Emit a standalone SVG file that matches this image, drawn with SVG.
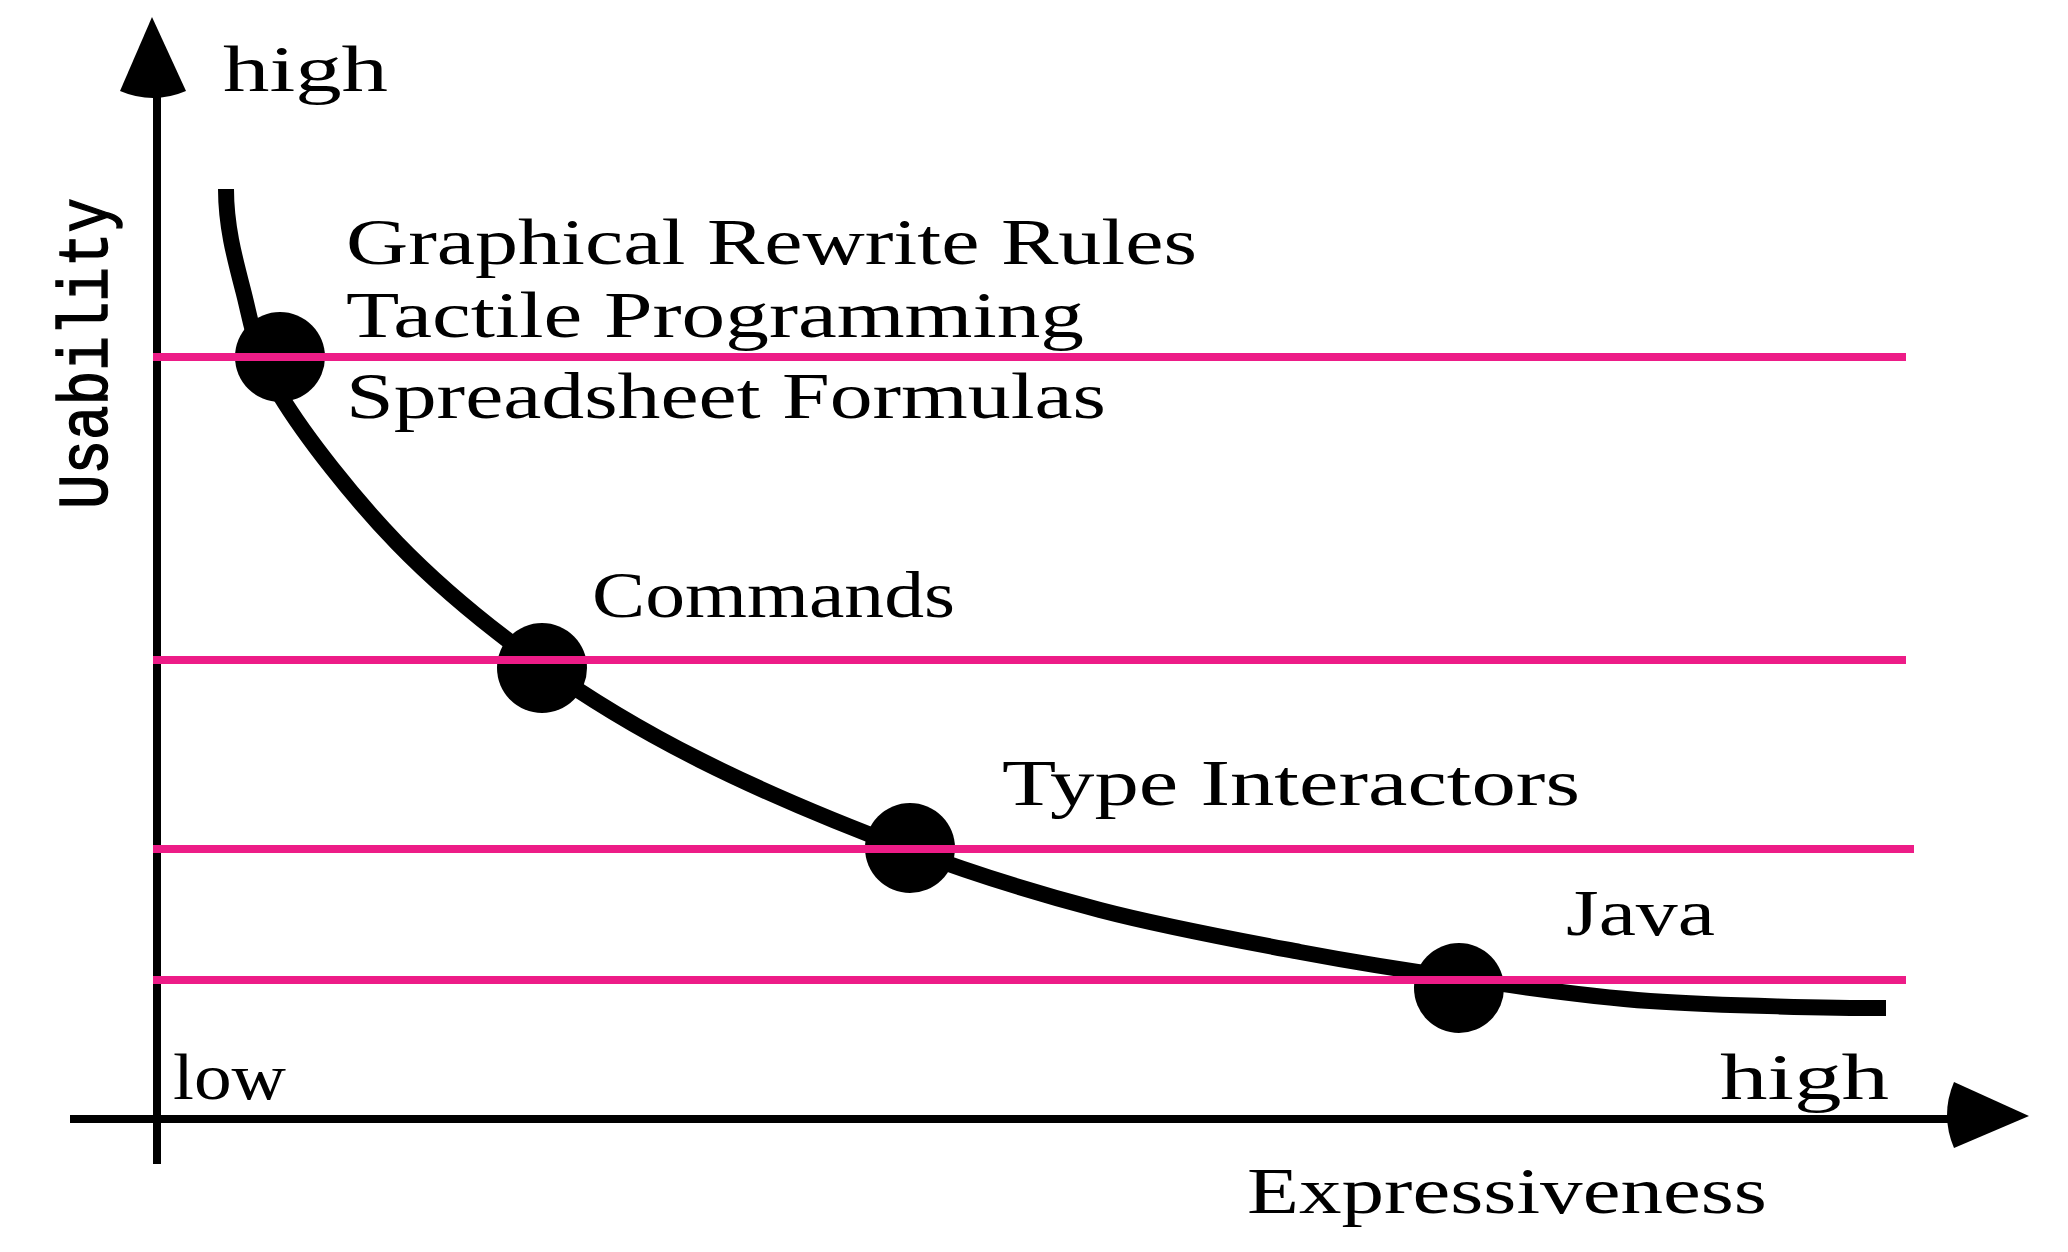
<svg xmlns="http://www.w3.org/2000/svg" width="2068" height="1252" viewBox="0 0 2068 1252">
<style>
.lbl{font-family:"Liberation Serif","Times New Roman",serif;font-size:66px;fill:#000}
.axis{stroke:#000;stroke-width:8;fill:none}
.level{stroke:#ED1C87;stroke-width:8;fill:none}
.dot{fill:#000}
</style>
<rect width="2068" height="1252" fill="#fff"/>
<g id="axes">
<line class="axis" x1="157" y1="96" x2="157" y2="1164"/>
<path d="M152,17 L186,91 Q153,105 120,91 Z" fill="#000"/>
<line class="axis" x1="70" y1="1119" x2="1955" y2="1119"/>
<path d="M2029,1116 L1954,1148 Q1940,1115 1954,1082 Z" fill="#000"/>
<text class="lbl" x="223" y="91" textLength="165" lengthAdjust="spacingAndGlyphs">high</text>
<text class="lbl" x="173" y="1099" textLength="113" lengthAdjust="spacingAndGlyphs">low</text>
<text class="lbl" x="1720" y="1099" textLength="169" lengthAdjust="spacingAndGlyphs">high</text>
<text class="lbl" x="1247" y="1213" textLength="520" lengthAdjust="spacingAndGlyphs">Expressiveness</text>
<text transform="translate(107,509) rotate(-90)" font-family="'Liberation Mono','Courier New',monospace" font-size="71" textLength="311" lengthAdjust="spacingAndGlyphs" stroke="#000" stroke-width="1.5">Usability</text>
</g>
<g id="connectors">
<path id="curve" fill="none" stroke="#000" stroke-width="16" d="M226,189 C226,225 234,255.7 243,290 C252,324.3 254.3,352.8 280,395 C305.7,437.2 353.7,498.2 397,543 C440.3,587.8 489.5,627.8 540,664 C590.5,700.2 638.3,729 700,760 C761.7,791 843.3,825 910,850 C976.7,875 1035,893 1100,910 C1165,927 1240,940.7 1300,952 C1360,963.3 1401.7,969.8 1460,978 C1518.3,986.2 1579,996 1650,1001 C1721,1006 1840,1008 1886,1008"/>
</g>
<g id="node-gr-tp-sf">
<circle class="dot" cx="280" cy="357" r="45"/>
<line class="level" x1="153" y1="357" x2="1906" y2="357"/>
<text class="lbl" x="346" y="264" textLength="851" lengthAdjust="spacingAndGlyphs">Graphical Rewrite Rules</text>
<text class="lbl" x="346" y="337" textLength="738" lengthAdjust="spacingAndGlyphs">Tactile Programming</text>
<text class="lbl" x="346" y="418" textLength="760" lengthAdjust="spacingAndGlyphs">Spreadsheet Formulas</text>
</g>
<g id="node-commands">
<circle class="dot" cx="542" cy="668" r="45"/>
<line class="level" x1="153" y1="660" x2="1906" y2="660"/>
<text class="lbl" x="592" y="617" textLength="363" lengthAdjust="spacingAndGlyphs">Commands</text>
</g>
<g id="node-type-interactors">
<circle class="dot" cx="910" cy="848" r="45"/>
<line class="level" x1="153" y1="849" x2="1914" y2="849"/>
<text class="lbl" x="1002" y="805" textLength="578" lengthAdjust="spacingAndGlyphs">Type Interactors</text>
</g>
<g id="node-java">
<circle class="dot" cx="1459" cy="988" r="45"/>
<line class="level" x1="153" y1="980" x2="1906" y2="980"/>
<text class="lbl" x="1566" y="935" textLength="149" lengthAdjust="spacingAndGlyphs">Java</text>
</g>
</svg>
